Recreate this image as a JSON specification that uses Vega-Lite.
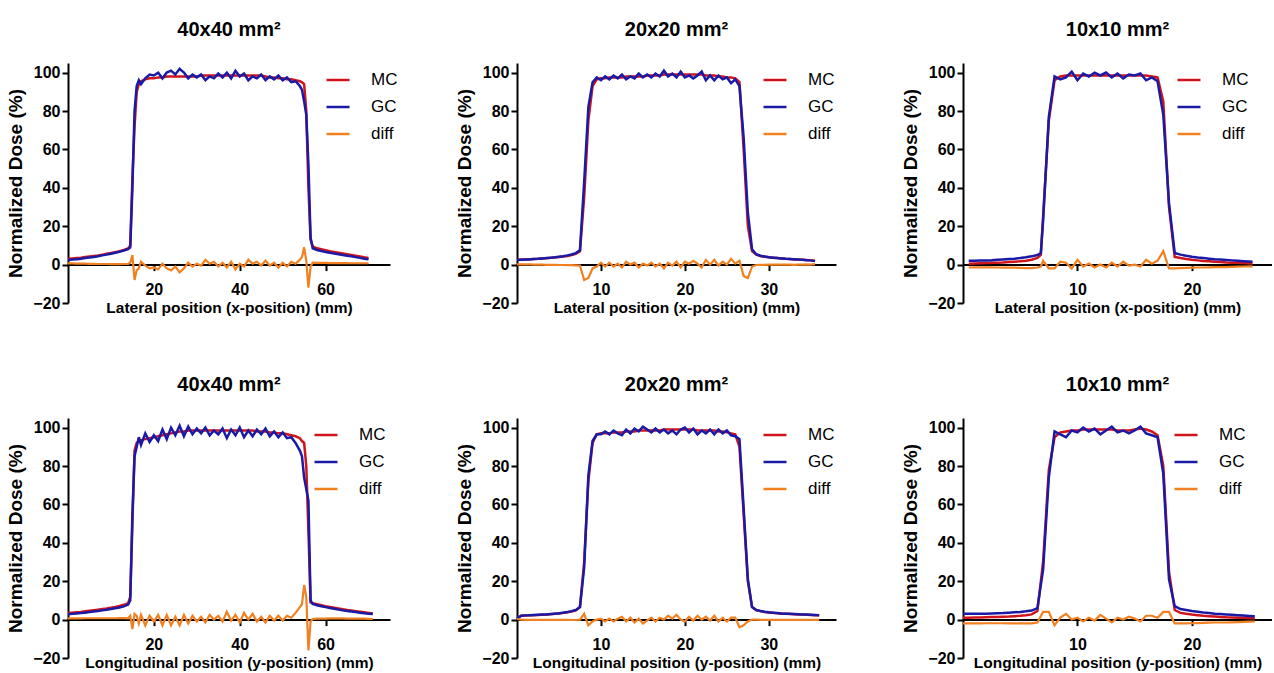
{
"$schema":"https://vega.github.io/schema/vega-lite/v6.json",
"padding":{"left":6,"top":20,"right":0,"bottom":0},
"background":"white",
"config":{
 "view":{"stroke":null},
 "font":"Liberation Sans",
 "axis":{"grid":false,"labelOverlap":false,"labelBound":false,"domainColor":"black","domainWidth":2,"tickColor":"black","tickWidth":2,"tickSize":6,"labelColor":"black","labelFont":"Liberation Sans","labelFontSize":16,"labelFontWeight":"bold","titleColor":"black","titleFont":"Liberation Sans","titleFontWeight":"bold"},
 "axisX":{"offset":-38.4,"labelPadding":10.5,"titlePadding":3,"titleFontSize":15.5,"labelFlush":false,"tickCount":10},
 "axisY":{"labelPadding":2,"titlePadding":7,"titleFontSize":19,"labelOverlap":false,"tickCount":10},
 "legend":{"orient":"none","symbolType":"stroke","symbolStrokeWidth":3,"symbolSize":529,"labelFont":"Liberation Sans","labelFontSize":17,"labelColor":"black","rowPadding":6,"padding":0,"labelOffset":20,"legendY":4},
 "title":{"font":"Liberation Sans","fontSize":20,"fontWeight":"bold","color":"black","anchor":"middle","offset":23},
 "line":{"strokeWidth":2.5}
},
"datasets":{
"p1":[
{"x":0,"MC":3.0,"GC":2.4,"diff":0.6},{"x":1,"MC":3.2,"GC":2.6,"diff":0.6},{"x":2,"MC":3.4,"GC":2.8,"diff":0.5},{"x":3,"MC":3.6,"GC":3.1,"diff":0.5},{"x":4,"MC":3.9,"GC":3.4,"diff":0.5},{"x":5,"MC":4.2,"GC":3.7,"diff":0.4},{"x":6,"MC":4.5,"GC":4.0,"diff":0.4},{"x":7,"MC":4.8,"GC":4.4,"diff":0.3},{"x":8,"MC":5.2,"GC":4.8,"diff":0.3},{"x":9,"MC":5.6,"GC":5.2,"diff":0.3},{"x":10,"MC":6.0,"GC":5.7,"diff":0.2},{"x":11,"MC":6.5,"GC":6.2,"diff":0.2},{"x":12,"MC":7.0,"GC":6.7,"diff":0.2},{"x":13,"MC":7.6,"GC":7.3,"diff":0.3},{"x":14,"MC":8.4,"GC":8.0,"diff":0.4},{"x":14.5,"MC":10,"GC":9,"diff":1},{"x":15,"MC":45,"GC":40,"diff":5},{"x":15.5,"MC":72,"GC":80,"diff":-8},{"x":16,"MC":90,"GC":93,"diff":-3},{"x":16.5,"MC":94,"GC":96,"diff":-2},{"x":17,"MC":95.5,"GC":94,"diff":1.5},{"x":18,"MC":96.5,"GC":97,"diff":-0.5},{"x":19,"MC":97,"GC":99,"diff":-2},{"x":20,"MC":97,"GC":98.5,"diff":-1.5},{"x":21,"MC":97.5,"GC":100,"diff":-2.5},{"x":22,"MC":97.5,"GC":97,"diff":0.5},{"x":23,"MC":98,"GC":100,"diff":-2},{"x":24,"MC":98,"GC":101,"diff":-3},{"x":25,"MC":98,"GC":99,"diff":-1},{"x":26,"MC":98,"GC":102,"diff":-4},{"x":27,"MC":98,"GC":100,"diff":-2},{"x":28,"MC":98,"GC":97,"diff":1},{"x":29,"MC":98,"GC":99,"diff":-1},{"x":30,"MC":98,"GC":97.5,"diff":0.5},{"x":31,"MC":98.5,"GC":99,"diff":-0.5},{"x":32,"MC":98.5,"GC":96,"diff":2.5},{"x":33,"MC":98.5,"GC":98,"diff":0.5},{"x":34,"MC":98.5,"GC":97,"diff":1.5},{"x":35,"MC":98.5,"GC":99.5,"diff":-1},{"x":36,"MC":98.5,"GC":97.5,"diff":1},{"x":37,"MC":98.5,"GC":100,"diff":-1.5},{"x":38,"MC":98.5,"GC":97,"diff":1.5},{"x":39,"MC":98.5,"GC":101,"diff":-2.5},{"x":40,"MC":98.5,"GC":98,"diff":0.5},{"x":41,"MC":98.5,"GC":99.5,"diff":-1},{"x":42,"MC":98.5,"GC":96,"diff":2.5},{"x":43,"MC":98.5,"GC":98,"diff":0.5},{"x":44,"MC":98.5,"GC":97,"diff":1.5},{"x":45,"MC":98.5,"GC":99,"diff":-0.5},{"x":46,"MC":98,"GC":96,"diff":2},{"x":47,"MC":97.5,"GC":98,"diff":-0.5},{"x":48,"MC":97.5,"GC":96.5,"diff":1},{"x":49,"MC":97,"GC":98.5,"diff":-1.5},{"x":50,"MC":97,"GC":96,"diff":1},{"x":51,"MC":96.5,"GC":97.5,"diff":-1},{"x":52,"MC":96.5,"GC":95,"diff":1.5},{"x":53,"MC":96,"GC":95.5,"diff":0.5},{"x":54,"MC":95.5,"GC":93,"diff":2.5},{"x":54.5,"MC":95,"GC":91,"diff":4},{"x":55,"MC":94,"GC":85,"diff":9},{"x":55.5,"MC":80,"GC":78,"diff":2},{"x":56,"MC":40,"GC":52,"diff":-12},{"x":56.5,"MC":13,"GC":14,"diff":-1},{"x":57,"MC":9.5,"GC":8.5,"diff":1},{"x":58,"MC":8.5,"GC":7.6,"diff":0.9},{"x":59,"MC":8.0,"GC":7.1,"diff":0.9},{"x":60,"MC":7.5,"GC":6.6,"diff":0.9},{"x":61,"MC":7.0,"GC":6.2,"diff":0.8},{"x":62,"MC":6.6,"GC":5.8,"diff":0.8},{"x":63,"MC":6.2,"GC":5.4,"diff":0.8},{"x":64,"MC":5.8,"GC":5.0,"diff":0.8},{"x":65,"MC":5.4,"GC":4.6,"diff":0.8},{"x":66,"MC":5.0,"GC":4.3,"diff":0.7},{"x":67,"MC":4.6,"GC":3.9,"diff":0.7},{"x":68,"MC":4.2,"GC":3.5,"diff":0.7},{"x":69,"MC":3.8,"GC":3.1,"diff":0.7},{"x":70,"MC":3.5,"GC":2.8,"diff":0.7}
],
"p2":[
{"x":0,"MC":2.5,"GC":2.4,"diff":0.1},{"x":0.5,"MC":2.6,"GC":2.5,"diff":0.1},{"x":1,"MC":2.7,"GC":2.6,"diff":0.1},{"x":1.5,"MC":2.8,"GC":2.7,"diff":0.1},{"x":2,"MC":2.9,"GC":2.9,"diff":0},{"x":2.5,"MC":3.0,"GC":3.0,"diff":0},{"x":3,"MC":3.2,"GC":3.2,"diff":0},{"x":3.5,"MC":3.3,"GC":3.4,"diff":-0.1},{"x":4,"MC":3.5,"GC":3.6,"diff":-0.1},{"x":4.5,"MC":3.7,"GC":3.8,"diff":-0.1},{"x":5,"MC":3.9,"GC":4.1,"diff":-0.2},{"x":5.5,"MC":4.2,"GC":4.4,"diff":-0.2},{"x":6,"MC":4.5,"GC":4.8,"diff":-0.3},{"x":6.5,"MC":5.0,"GC":5.3,"diff":-0.3},{"x":7,"MC":5.6,"GC":6.0,"diff":-0.4},{"x":7.5,"MC":7,"GC":7.5,"diff":-0.5},{"x":8,"MC":35,"GC":43,"diff":-8},{"x":8.5,"MC":75,"GC":82,"diff":-7},{"x":9,"MC":93,"GC":95,"diff":-2},{"x":9.5,"MC":96.5,"GC":97.5,"diff":-1},{"x":10,"MC":97,"GC":96,"diff":1},{"x":10.5,"MC":97,"GC":98,"diff":-1},{"x":11,"MC":97.5,"GC":96.5,"diff":1},{"x":11.5,"MC":97.5,"GC":98.5,"diff":-1},{"x":12,"MC":97.5,"GC":97,"diff":0.5},{"x":12.5,"MC":97.5,"GC":99,"diff":-1.5},{"x":13,"MC":98,"GC":96.5,"diff":1.5},{"x":13.5,"MC":98,"GC":98,"diff":0},{"x":14,"MC":98,"GC":97,"diff":1},{"x":14.5,"MC":98,"GC":99.5,"diff":-1.5},{"x":15,"MC":98,"GC":97.5,"diff":0.5},{"x":15.5,"MC":98.5,"GC":99,"diff":-0.5},{"x":16,"MC":98.5,"GC":97.5,"diff":1},{"x":16.5,"MC":98.5,"GC":99.5,"diff":-1},{"x":17,"MC":98.5,"GC":98,"diff":0.5},{"x":17.5,"MC":99,"GC":101,"diff":-2},{"x":18,"MC":99,"GC":98,"diff":1},{"x":18.5,"MC":99,"GC":99.5,"diff":-0.5},{"x":19,"MC":99,"GC":97.5,"diff":1.5},{"x":19.5,"MC":99,"GC":100.5,"diff":-1.5},{"x":20,"MC":99,"GC":97.5,"diff":1.5},{"x":20.5,"MC":99,"GC":98.5,"diff":0.5},{"x":21,"MC":99,"GC":97,"diff":2},{"x":21.5,"MC":99,"GC":98.5,"diff":0.5},{"x":22,"MC":99,"GC":100.5,"diff":-1.5},{"x":22.5,"MC":98.5,"GC":96,"diff":2.5},{"x":23,"MC":98.5,"GC":98.5,"diff":0},{"x":23.5,"MC":98.5,"GC":96,"diff":2.5},{"x":24,"MC":98,"GC":98.5,"diff":-0.5},{"x":24.5,"MC":98,"GC":96.5,"diff":1.5},{"x":25,"MC":97.5,"GC":97.5,"diff":0},{"x":25.5,"MC":97.5,"GC":94.5,"diff":3},{"x":26,"MC":97,"GC":96.5,"diff":0.5},{"x":26.5,"MC":95,"GC":93,"diff":2},{"x":27,"MC":60,"GC":66,"diff":-6},{"x":27.5,"MC":20,"GC":27,"diff":-7},{"x":28,"MC":7,"GC":8,"diff":-1},{"x":28.5,"MC":5.2,"GC":5.4,"diff":-0.2},{"x":29,"MC":4.5,"GC":4.6,"diff":-0.1},{"x":29.5,"MC":4.1,"GC":4.2,"diff":-0.1},{"x":30,"MC":3.8,"GC":3.8,"diff":0},{"x":30.5,"MC":3.6,"GC":3.6,"diff":0},{"x":31,"MC":3.4,"GC":3.4,"diff":0},{"x":31.5,"MC":3.2,"GC":3.2,"diff":0},{"x":32,"MC":3.0,"GC":3.0,"diff":0},{"x":32.5,"MC":2.9,"GC":2.9,"diff":0},{"x":33,"MC":2.7,"GC":2.8,"diff":-0.1},{"x":33.5,"MC":2.6,"GC":2.6,"diff":0},{"x":34,"MC":2.5,"GC":2.5,"diff":0},{"x":34.5,"MC":2.4,"GC":2.3,"diff":0.1},{"x":35,"MC":2.2,"GC":2.2,"diff":0},{"x":35.5,"MC":2.0,"GC":1.8,"diff":0.2}
],
"p3":[
{"x":0.5,"MC":0.5,"GC":2.0,"diff":-1.5},{"x":1,"MC":0.6,"GC":2.0,"diff":-1.4},{"x":1.5,"MC":0.7,"GC":2.1,"diff":-1.4},{"x":2,"MC":0.8,"GC":2.2,"diff":-1.4},{"x":2.5,"MC":0.9,"GC":2.3,"diff":-1.4},{"x":3,"MC":1.0,"GC":2.5,"diff":-1.5},{"x":3.5,"MC":1.1,"GC":2.7,"diff":-1.6},{"x":4,"MC":1.3,"GC":2.9,"diff":-1.6},{"x":4.5,"MC":1.5,"GC":3.1,"diff":-1.6},{"x":5,"MC":1.7,"GC":3.4,"diff":-1.7},{"x":5.5,"MC":2.0,"GC":3.8,"diff":-1.8},{"x":6,"MC":2.5,"GC":4.3,"diff":-1.8},{"x":6.5,"MC":3.5,"GC":5.0,"diff":-1.5},{"x":6.8,"MC":5,"GC":6,"diff":-1},{"x":7,"MC":25,"GC":23,"diff":2},{"x":7.5,"MC":75,"GC":77,"diff":-2},{"x":8,"MC":96,"GC":98,"diff":-2},{"x":8.5,"MC":98,"GC":96.5,"diff":1.5},{"x":9,"MC":98.5,"GC":97.5,"diff":1},{"x":9.5,"MC":98.5,"GC":100.5,"diff":-2},{"x":10,"MC":98.5,"GC":96,"diff":2.5},{"x":10.5,"MC":98.5,"GC":99.5,"diff":-1},{"x":11,"MC":98.5,"GC":98,"diff":0.5},{"x":11.5,"MC":98.5,"GC":100,"diff":-1.5},{"x":12,"MC":98.5,"GC":98.5,"diff":0},{"x":12.5,"MC":98.5,"GC":100,"diff":-1.5},{"x":13,"MC":98.5,"GC":97.5,"diff":1},{"x":13.5,"MC":98.5,"GC":99.5,"diff":-1},{"x":14,"MC":98.5,"GC":97,"diff":1.5},{"x":14.5,"MC":98.5,"GC":99,"diff":-0.5},{"x":15,"MC":98.5,"GC":98.5,"diff":0},{"x":15.5,"MC":98.5,"GC":99.5,"diff":-1},{"x":16,"MC":98.5,"GC":96,"diff":2.5},{"x":16.5,"MC":98,"GC":97.5,"diff":0.5},{"x":17,"MC":97.5,"GC":95.5,"diff":2},{"x":17.5,"MC":85,"GC":78,"diff":7},{"x":18,"MC":30,"GC":32,"diff":-2},{"x":18.5,"MC":4.0,"GC":6.0,"diff":-2},{"x":19,"MC":3.4,"GC":5.2,"diff":-1.8},{"x":19.5,"MC":2.9,"GC":4.6,"diff":-1.7},{"x":20,"MC":2.5,"GC":4.1,"diff":-1.6},{"x":20.5,"MC":2.2,"GC":3.7,"diff":-1.5},{"x":21,"MC":1.9,"GC":3.4,"diff":-1.5},{"x":21.5,"MC":1.7,"GC":3.1,"diff":-1.4},{"x":22,"MC":1.5,"GC":2.8,"diff":-1.3},{"x":22.5,"MC":1.3,"GC":2.6,"diff":-1.3},{"x":23,"MC":1.1,"GC":2.4,"diff":-1.3},{"x":23.5,"MC":1.0,"GC":2.2,"diff":-1.2},{"x":24,"MC":0.9,"GC":2.0,"diff":-1.1},{"x":24.5,"MC":0.8,"GC":1.8,"diff":-1.0},{"x":25,"MC":0.7,"GC":1.6,"diff":-0.9},{"x":25.3,"MC":0.6,"GC":1.5,"diff":-0.9}
],
"p4":[
{"x":0,"MC":3.4,"GC":2.8,"diff":0.6},{"x":1,"MC":3.6,"GC":3.0,"diff":0.6},{"x":2,"MC":3.8,"GC":3.2,"diff":0.6},{"x":3,"MC":4.0,"GC":3.4,"diff":0.6},{"x":4,"MC":4.3,"GC":3.6,"diff":0.7},{"x":5,"MC":4.6,"GC":3.9,"diff":0.7},{"x":6,"MC":4.9,"GC":4.2,"diff":0.7},{"x":7,"MC":5.2,"GC":4.5,"diff":0.7},{"x":8,"MC":5.5,"GC":4.8,"diff":0.7},{"x":9,"MC":5.8,"GC":5.1,"diff":0.7},{"x":10,"MC":6.2,"GC":5.5,"diff":0.7},{"x":11,"MC":6.6,"GC":5.9,"diff":0.7},{"x":12,"MC":7.1,"GC":6.3,"diff":0.8},{"x":13,"MC":7.7,"GC":6.9,"diff":0.8},{"x":14,"MC":8.5,"GC":7.8,"diff":0.7},{"x":14.5,"MC":12,"GC":10,"diff":2},{"x":15,"MC":50,"GC":55,"diff":-5},{"x":15.5,"MC":88,"GC":85,"diff":3},{"x":16,"MC":92,"GC":90,"diff":2},{"x":16.5,"MC":93,"GC":95,"diff":-2},{"x":17,"MC":93.5,"GC":91,"diff":2.5},{"x":18,"MC":94,"GC":97,"diff":-3},{"x":19,"MC":94.5,"GC":92.5,"diff":2},{"x":20,"MC":95,"GC":96,"diff":-1},{"x":21,"MC":95.5,"GC":93,"diff":2.5},{"x":22,"MC":96,"GC":99,"diff":-3},{"x":23,"MC":96.5,"GC":94,"diff":2.5},{"x":24,"MC":97,"GC":100,"diff":-3},{"x":25,"MC":97.5,"GC":96,"diff":1.5},{"x":26,"MC":98,"GC":101,"diff":-3},{"x":27,"MC":98,"GC":95.5,"diff":2.5},{"x":28,"MC":98.5,"GC":100.5,"diff":-2},{"x":29,"MC":98.5,"GC":96.5,"diff":2},{"x":30,"MC":98.5,"GC":99.5,"diff":-1},{"x":31,"MC":98.5,"GC":97,"diff":1.5},{"x":32,"MC":98.5,"GC":100,"diff":-1.5},{"x":33,"MC":98.5,"GC":96,"diff":2.5},{"x":34,"MC":98.5,"GC":98.5,"diff":0},{"x":35,"MC":98.5,"GC":96.5,"diff":2},{"x":36,"MC":98.5,"GC":99.5,"diff":-1},{"x":37,"MC":98.5,"GC":94.5,"diff":4},{"x":38,"MC":98.5,"GC":99,"diff":-0.5},{"x":39,"MC":98.5,"GC":96,"diff":2.5},{"x":40,"MC":98.5,"GC":100,"diff":-1.5},{"x":41,"MC":98.5,"GC":95,"diff":3.5},{"x":42,"MC":98.5,"GC":98.5,"diff":0},{"x":43,"MC":98.5,"GC":95.5,"diff":3},{"x":44,"MC":98,"GC":99,"diff":-1},{"x":45,"MC":98,"GC":96.5,"diff":1.5},{"x":46,"MC":98,"GC":99.5,"diff":-1.5},{"x":47,"MC":97.5,"GC":95.5,"diff":2},{"x":48,"MC":97.5,"GC":98,"diff":-0.5},{"x":49,"MC":97,"GC":95,"diff":2},{"x":50,"MC":97,"GC":97.5,"diff":-0.5},{"x":51,"MC":96.5,"GC":94.5,"diff":2},{"x":52,"MC":96,"GC":95,"diff":1},{"x":53,"MC":95.5,"GC":92,"diff":3.5},{"x":54,"MC":94.5,"GC":88,"diff":6.5},{"x":54.5,"MC":93,"GC":85,"diff":8},{"x":55,"MC":92,"GC":74,"diff":18},{"x":55.5,"MC":80,"GC":68,"diff":12},{"x":56,"MC":46,"GC":62,"diff":-16},{"x":56.5,"MC":9,"GC":10,"diff":-1},{"x":57,"MC":8.5,"GC":8.2,"diff":0.3},{"x":58,"MC":8.0,"GC":7.5,"diff":0.5},{"x":59,"MC":7.5,"GC":7.0,"diff":0.5},{"x":60,"MC":7.0,"GC":6.5,"diff":0.5},{"x":61,"MC":6.6,"GC":6.0,"diff":0.6},{"x":62,"MC":6.2,"GC":5.6,"diff":0.6},{"x":63,"MC":5.8,"GC":5.2,"diff":0.6},{"x":64,"MC":5.4,"GC":4.8,"diff":0.6},{"x":65,"MC":5.0,"GC":4.5,"diff":0.5},{"x":66,"MC":4.7,"GC":4.2,"diff":0.5},{"x":67,"MC":4.4,"GC":3.9,"diff":0.5},{"x":68,"MC":4.1,"GC":3.6,"diff":0.5},{"x":69,"MC":3.8,"GC":3.3,"diff":0.5},{"x":70,"MC":3.5,"GC":3.1,"diff":0.4},{"x":71,"MC":3.2,"GC":2.9,"diff":0.3}
],
"p5":[
{"x":0,"MC":0.8,"GC":0.5,"diff":0.3},{"x":0.5,"MC":2.0,"GC":2.0,"diff":0},{"x":1,"MC":2.1,"GC":2.2,"diff":-0.1},{"x":1.5,"MC":2.2,"GC":2.3,"diff":-0.1},{"x":2,"MC":2.3,"GC":2.4,"diff":-0.1},{"x":2.5,"MC":2.4,"GC":2.5,"diff":-0.1},{"x":3,"MC":2.5,"GC":2.6,"diff":-0.1},{"x":3.5,"MC":2.6,"GC":2.7,"diff":-0.1},{"x":4,"MC":2.8,"GC":2.9,"diff":-0.1},{"x":4.5,"MC":3.0,"GC":3.1,"diff":-0.1},{"x":5,"MC":3.2,"GC":3.3,"diff":-0.1},{"x":5.5,"MC":3.5,"GC":3.6,"diff":-0.1},{"x":6,"MC":3.8,"GC":3.9,"diff":-0.1},{"x":6.5,"MC":4.2,"GC":4.4,"diff":-0.2},{"x":7,"MC":4.8,"GC":5.0,"diff":-0.2},{"x":7.5,"MC":6.5,"GC":6.5,"diff":0},{"x":8,"MC":30,"GC":27,"diff":3},{"x":8.5,"MC":72,"GC":75,"diff":-3},{"x":9,"MC":92,"GC":93,"diff":-1},{"x":9.5,"MC":96.5,"GC":96.5,"diff":0},{"x":10,"MC":97,"GC":96.5,"diff":0.5},{"x":10.5,"MC":97,"GC":98,"diff":-1},{"x":11,"MC":97,"GC":96.5,"diff":0.5},{"x":11.5,"MC":97.5,"GC":98.5,"diff":-1},{"x":12,"MC":97.5,"GC":97,"diff":0.5},{"x":12.5,"MC":97.5,"GC":96,"diff":1.5},{"x":13,"MC":98,"GC":99,"diff":-1},{"x":13.5,"MC":98,"GC":97,"diff":1},{"x":14,"MC":98,"GC":99.5,"diff":-1.5},{"x":14.5,"MC":98.5,"GC":98,"diff":0.5},{"x":15,"MC":98.5,"GC":100.5,"diff":-2},{"x":15.5,"MC":98.5,"GC":99,"diff":-0.5},{"x":16,"MC":98.5,"GC":97.5,"diff":1},{"x":16.5,"MC":98.5,"GC":99.5,"diff":-1},{"x":17,"MC":98.5,"GC":97.5,"diff":1},{"x":17.5,"MC":99,"GC":99,"diff":0},{"x":18,"MC":99,"GC":97,"diff":2},{"x":18.5,"MC":99,"GC":98.5,"diff":0.5},{"x":19,"MC":99,"GC":96.5,"diff":2.5},{"x":19.5,"MC":99,"GC":99,"diff":0},{"x":20,"MC":99,"GC":100,"diff":-1},{"x":20.5,"MC":99,"GC":97.5,"diff":1.5},{"x":21,"MC":99,"GC":99.5,"diff":-0.5},{"x":21.5,"MC":98.5,"GC":96.5,"diff":2},{"x":22,"MC":98.5,"GC":98.5,"diff":0},{"x":22.5,"MC":98.5,"GC":97,"diff":1.5},{"x":23,"MC":98.5,"GC":99,"diff":-0.5},{"x":23.5,"MC":98.5,"GC":96.5,"diff":2},{"x":24,"MC":98,"GC":99,"diff":-1},{"x":24.5,"MC":98,"GC":97,"diff":1},{"x":25,"MC":97.5,"GC":98.5,"diff":-1},{"x":25.5,"MC":97,"GC":96,"diff":1},{"x":26,"MC":96.5,"GC":95.5,"diff":1},{"x":26.5,"MC":90,"GC":94,"diff":-4},{"x":27,"MC":55,"GC":58,"diff":-3},{"x":27.5,"MC":20,"GC":21,"diff":-1},{"x":28,"MC":6.5,"GC":6.5,"diff":0},{"x":28.5,"MC":5.0,"GC":5.0,"diff":0},{"x":29,"MC":4.4,"GC":4.5,"diff":-0.1},{"x":29.5,"MC":4.0,"GC":4.1,"diff":-0.1},{"x":30,"MC":3.7,"GC":3.8,"diff":-0.1},{"x":30.5,"MC":3.5,"GC":3.6,"diff":-0.1},{"x":31,"MC":3.3,"GC":3.4,"diff":-0.1},{"x":31.5,"MC":3.1,"GC":3.2,"diff":-0.1},{"x":32,"MC":3.0,"GC":3.1,"diff":-0.1},{"x":32.5,"MC":2.9,"GC":3.0,"diff":-0.1},{"x":33,"MC":2.8,"GC":2.9,"diff":-0.1},{"x":33.5,"MC":2.7,"GC":2.8,"diff":-0.1},{"x":34,"MC":2.6,"GC":2.7,"diff":-0.1},{"x":34.5,"MC":2.5,"GC":2.6,"diff":-0.1},{"x":35,"MC":2.4,"GC":2.5,"diff":-0.1},{"x":35.5,"MC":2.3,"GC":2.4,"diff":-0.1},{"x":36,"MC":2.2,"GC":2.3,"diff":-0.1}
],
"p6":[
{"x":0,"MC":1.0,"GC":3.0,"diff":-2.0},{"x":0.5,"MC":1.0,"GC":3.0,"diff":-2.0},{"x":1,"MC":1.1,"GC":3.0,"diff":-1.9},{"x":1.5,"MC":1.1,"GC":3.1,"diff":-2.0},{"x":2,"MC":1.2,"GC":3.1,"diff":-1.9},{"x":2.5,"MC":1.3,"GC":3.2,"diff":-1.9},{"x":3,"MC":1.4,"GC":3.3,"diff":-1.9},{"x":3.5,"MC":1.5,"GC":3.4,"diff":-1.9},{"x":4,"MC":1.6,"GC":3.6,"diff":-2.0},{"x":4.5,"MC":1.8,"GC":3.8,"diff":-2.0},{"x":5,"MC":2.0,"GC":4.0,"diff":-2.0},{"x":5.5,"MC":2.3,"GC":4.3,"diff":-2.0},{"x":6,"MC":2.7,"GC":4.7,"diff":-2.0},{"x":6.5,"MC":4.5,"GC":6.0,"diff":-1.5},{"x":7,"MC":30,"GC":26,"diff":4},{"x":7.5,"MC":78,"GC":74,"diff":4},{"x":8,"MC":95,"GC":98,"diff":-3},{"x":8.5,"MC":97.5,"GC":96.5,"diff":1},{"x":9,"MC":98,"GC":95,"diff":3},{"x":9.5,"MC":98.5,"GC":98.5,"diff":0},{"x":10,"MC":98.5,"GC":97.5,"diff":1},{"x":10.5,"MC":99,"GC":100,"diff":-1},{"x":11,"MC":99,"GC":98,"diff":1},{"x":11.5,"MC":99,"GC":99.5,"diff":-0.5},{"x":12,"MC":99,"GC":96.5,"diff":2.5},{"x":12.5,"MC":99,"GC":98.5,"diff":0.5},{"x":13,"MC":99,"GC":100.5,"diff":-1.5},{"x":13.5,"MC":98.5,"GC":97.5,"diff":1},{"x":14,"MC":98.5,"GC":98.5,"diff":0},{"x":14.5,"MC":98.5,"GC":97,"diff":1.5},{"x":15,"MC":99,"GC":98.5,"diff":0.5},{"x":15.5,"MC":99.5,"GC":100.5,"diff":-1},{"x":16,"MC":99,"GC":97,"diff":2},{"x":16.5,"MC":98,"GC":96,"diff":2},{"x":17,"MC":96,"GC":95,"diff":1},{"x":17.5,"MC":80,"GC":76,"diff":4},{"x":18,"MC":25,"GC":21,"diff":4},{"x":18.5,"MC":5,"GC":7,"diff":-2},{"x":19,"MC":3.5,"GC":5.5,"diff":-2},{"x":19.5,"MC":3.0,"GC":5.0,"diff":-2},{"x":20,"MC":2.6,"GC":4.5,"diff":-1.9},{"x":20.5,"MC":2.3,"GC":4.1,"diff":-1.8},{"x":21,"MC":2.0,"GC":3.7,"diff":-1.7},{"x":21.5,"MC":1.8,"GC":3.4,"diff":-1.6},{"x":22,"MC":1.6,"GC":3.1,"diff":-1.5},{"x":22.5,"MC":1.4,"GC":2.9,"diff":-1.5},{"x":23,"MC":1.2,"GC":2.7,"diff":-1.5},{"x":23.5,"MC":1.1,"GC":2.5,"diff":-1.4},{"x":24,"MC":1.0,"GC":2.3,"diff":-1.3},{"x":24.5,"MC":0.9,"GC":2.1,"diff":-1.2},{"x":25,"MC":0.8,"GC":1.9,"diff":-1.1},{"x":25.5,"MC":0.7,"GC":1.7,"diff":-1.0}
]
},
"vconcat":[
{"hconcat":[
 {"width":322,"height":240,"title":"40x40 mm²","data":{"name":"p1"},
  "encoding":{"x":{"field":"x","type":"quantitative","scale":{"domain":[0,75],"nice":false,"zero":false},"axis":{"values":[20,40,60],"title":"Lateral position (x-position) (mm)"}}},
  "layer":[
   {"mark":"line","encoding":{"y":{"field":"MC","type":"quantitative","scale":{"domain":[-20,105],"nice":false},"axis":{"values":[-20,0,20,40,60,80,100],"tickCount":10,"labelOverlap":false,"title":"Normalized Dose (%)"}},"color":{"datum":"MC","type":"nominal","scale":{"domain":["MC","GC","diff"],"range":["#d0141c","#1a1aa6","#f08020"]},"legend":{"title":null,"legendX":257}}}},
   {"mark":"line","encoding":{"y":{"field":"GC","type":"quantitative"},"color":{"datum":"GC","type":"nominal"}}},
   {"mark":{"type":"line","strokeWidth":2.2},"encoding":{"y":{"field":"diff","type":"quantitative"},"color":{"datum":"diff","type":"nominal"}}}
  ]},
 {"width":319,"height":240,"title":"20x20 mm²","data":{"name":"p2"},
  "encoding":{"x":{"field":"x","type":"quantitative","scale":{"domain":[0,38],"nice":false,"zero":false},"axis":{"values":[10,20,30],"title":"Lateral position (x-position) (mm)"}}},
  "layer":[
   {"mark":"line","encoding":{"y":{"field":"MC","type":"quantitative","scale":{"domain":[-20,105],"nice":false},"axis":{"values":[-20,0,20,40,60,80,100],"tickCount":10,"labelOverlap":false,"title":"Normalized Dose (%)"}},"color":{"datum":"MC","type":"nominal","scale":{"domain":["MC","GC","diff"],"range":["#d0141c","#1a1aa6","#f08020"]},"legend":{"title":null,"legendX":245}}}},
   {"mark":"line","encoding":{"y":{"field":"GC","type":"quantitative"},"color":{"datum":"GC","type":"nominal"}}},
   {"mark":{"type":"line","strokeWidth":2.2},"encoding":{"y":{"field":"diff","type":"quantitative"},"color":{"datum":"diff","type":"nominal"}}}
  ]},
 {"width":309,"height":240,"title":"10x10 mm²","data":{"name":"p3"},
  "encoding":{"x":{"field":"x","type":"quantitative","scale":{"domain":[0,27],"nice":false,"zero":false},"axis":{"values":[10,20],"title":"Lateral position (x-position) (mm)"}}},
  "layer":[
   {"mark":"line","encoding":{"y":{"field":"MC","type":"quantitative","scale":{"domain":[-20,105],"nice":false},"axis":{"values":[-20,0,20,40,60,80,100],"tickCount":10,"labelOverlap":false,"title":"Normalized Dose (%)"}},"color":{"datum":"MC","type":"nominal","scale":{"domain":["MC","GC","diff"],"range":["#d0141c","#1a1aa6","#f08020"]},"legend":{"title":null,"legendX":213}}}},
   {"mark":"line","encoding":{"y":{"field":"GC","type":"quantitative"},"color":{"datum":"GC","type":"nominal"}}},
   {"mark":{"type":"line","strokeWidth":2.2},"encoding":{"y":{"field":"diff","type":"quantitative"},"color":{"datum":"diff","type":"nominal"}}}
  ]}
 ],"spacing":127,"bounds":"flush",
 "resolve":{"scale":{"x":"independent","y":"independent","color":"independent"},"legend":{"color":"independent"},"axis":{"x":"independent","y":"independent"}}},
{"hconcat":[
 {"width":322,"height":240,"title":"40x40 mm²","data":{"name":"p4"},
  "encoding":{"x":{"field":"x","type":"quantitative","scale":{"domain":[0,75],"nice":false,"zero":false},"axis":{"values":[20,40,60],"title":"Longitudinal position (y-position) (mm)"}}},
  "layer":[
   {"mark":"line","encoding":{"y":{"field":"MC","type":"quantitative","scale":{"domain":[-20,105],"nice":false},"axis":{"values":[-20,0,20,40,60,80,100],"tickCount":10,"labelOverlap":false,"title":"Normalized Dose (%)"}},"color":{"datum":"MC","type":"nominal","scale":{"domain":["MC","GC","diff"],"range":["#d0141c","#1a1aa6","#f08020"]},"legend":{"title":null,"legendX":245}}}},
   {"mark":"line","encoding":{"y":{"field":"GC","type":"quantitative"},"color":{"datum":"GC","type":"nominal"}}},
   {"mark":{"type":"line","strokeWidth":2.2},"encoding":{"y":{"field":"diff","type":"quantitative"},"color":{"datum":"diff","type":"nominal"}}}
  ]},
 {"width":319,"height":240,"title":"20x20 mm²","data":{"name":"p5"},
  "encoding":{"x":{"field":"x","type":"quantitative","scale":{"domain":[0,38],"nice":false,"zero":false},"axis":{"values":[10,20,30],"title":"Longitudinal position (y-position) (mm)"}}},
  "layer":[
   {"mark":"line","encoding":{"y":{"field":"MC","type":"quantitative","scale":{"domain":[-20,105],"nice":false},"axis":{"values":[-20,0,20,40,60,80,100],"tickCount":10,"labelOverlap":false,"title":"Normalized Dose (%)"}},"color":{"datum":"MC","type":"nominal","scale":{"domain":["MC","GC","diff"],"range":["#d0141c","#1a1aa6","#f08020"]},"legend":{"title":null,"legendX":245}}}},
   {"mark":"line","encoding":{"y":{"field":"GC","type":"quantitative"},"color":{"datum":"GC","type":"nominal"}}},
   {"mark":{"type":"line","strokeWidth":2.2},"encoding":{"y":{"field":"diff","type":"quantitative"},"color":{"datum":"diff","type":"nominal"}}}
  ]},
 {"width":309,"height":240,"title":"10x10 mm²","data":{"name":"p6"},
  "encoding":{"x":{"field":"x","type":"quantitative","scale":{"domain":[0,27],"nice":false,"zero":false},"axis":{"values":[10,20],"title":"Longitudinal position (y-position) (mm)"}}},
  "layer":[
   {"mark":"line","encoding":{"y":{"field":"MC","type":"quantitative","scale":{"domain":[-20,105],"nice":false},"axis":{"values":[-20,0,20,40,60,80,100],"tickCount":10,"labelOverlap":false,"title":"Normalized Dose (%)"}},"color":{"datum":"MC","type":"nominal","scale":{"domain":["MC","GC","diff"],"range":["#d0141c","#1a1aa6","#f08020"]},"legend":{"title":null,"legendX":210}}}},
   {"mark":"line","encoding":{"y":{"field":"GC","type":"quantitative"},"color":{"datum":"GC","type":"nominal"}}},
   {"mark":{"type":"line","strokeWidth":2.2},"encoding":{"y":{"field":"diff","type":"quantitative"},"color":{"datum":"diff","type":"nominal"}}}
  ]}
 ],"spacing":127,"bounds":"flush",
 "resolve":{"scale":{"x":"independent","y":"independent","color":"independent"},"legend":{"color":"independent"},"axis":{"x":"independent","y":"independent"}}}
],
"spacing":59,
"resolve":{"scale":{"x":"independent","y":"independent","color":"independent"},"legend":{"color":"independent"},"axis":{"x":"independent","y":"independent"}}
}
